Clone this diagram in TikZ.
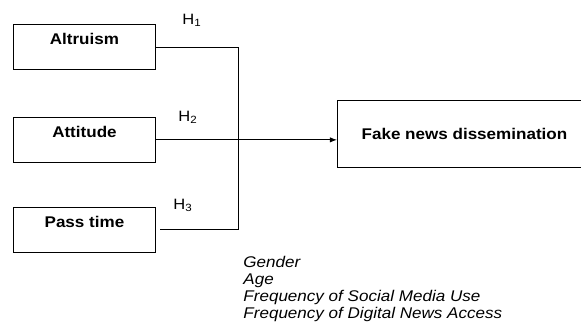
\documentclass[tikz,border=0pt]{standalone}
\usepackage{fontspec}
\setmainfont{Liberation Sans}[FakeStretch=1.1]
\usetikzlibrary{arrows.meta,positioning}

\begin{document}
\begin{tikzpicture}[x=1pt, y=-1pt, >=Latex, line width=0.9pt]
    \tikzstyle{factor}=[draw, font=\fontsize{15.5}{18}\selectfont\bfseries, minimum width=142pt, inner xsep=0pt, inner ysep=0pt, text height=20pt, text depth=25pt]
    \tikzstyle{hyp}=[font=\fontsize{15}{18}\selectfont, inner sep=0pt, anchor=base west]
    \useasboundingbox (0,0) rectangle (581,322);
    \clip (0,0) rectangle (581,322);

    \node[factor, anchor=north west] (altruism) at (13,24) {Altruism};
    \node[factor, below=47pt of altruism] (attitude) {Attitude};
    \node[factor, below=44pt of attitude] (passtime) {Pass time};
    \node[draw, font=\fontsize{15.5}{18}\selectfont\bfseries, minimum width=254pt, minimum height=67pt, anchor=north west] (fake) at (337,100) {Fake news dissemination};

    \coordinate (bus) at (238,0);
    \draw[shorten >=4pt] (altruism) -- (altruism -| bus) -- (passtime -| bus) -- (passtime);
    \draw[->] (attitude) -- (attitude -| fake.west);

    \node[hyp] (h1) at (182,24) {H\textsubscript{1}};
    \node[hyp] (h2) at (178,121) {H\textsubscript{2}};
    \node[hyp] (h3) at (173,209) {H\textsubscript{3}};

    \node[anchor=north west, align=left, inner sep=0pt, font={\fontsize{15.5}{16.8}\selectfont\itshape}] (controls) at (243,256) {Gender\\Age\\Frequency of Social Media Use\\Frequency of Digital News Access};
\end{tikzpicture}
\end{document}
